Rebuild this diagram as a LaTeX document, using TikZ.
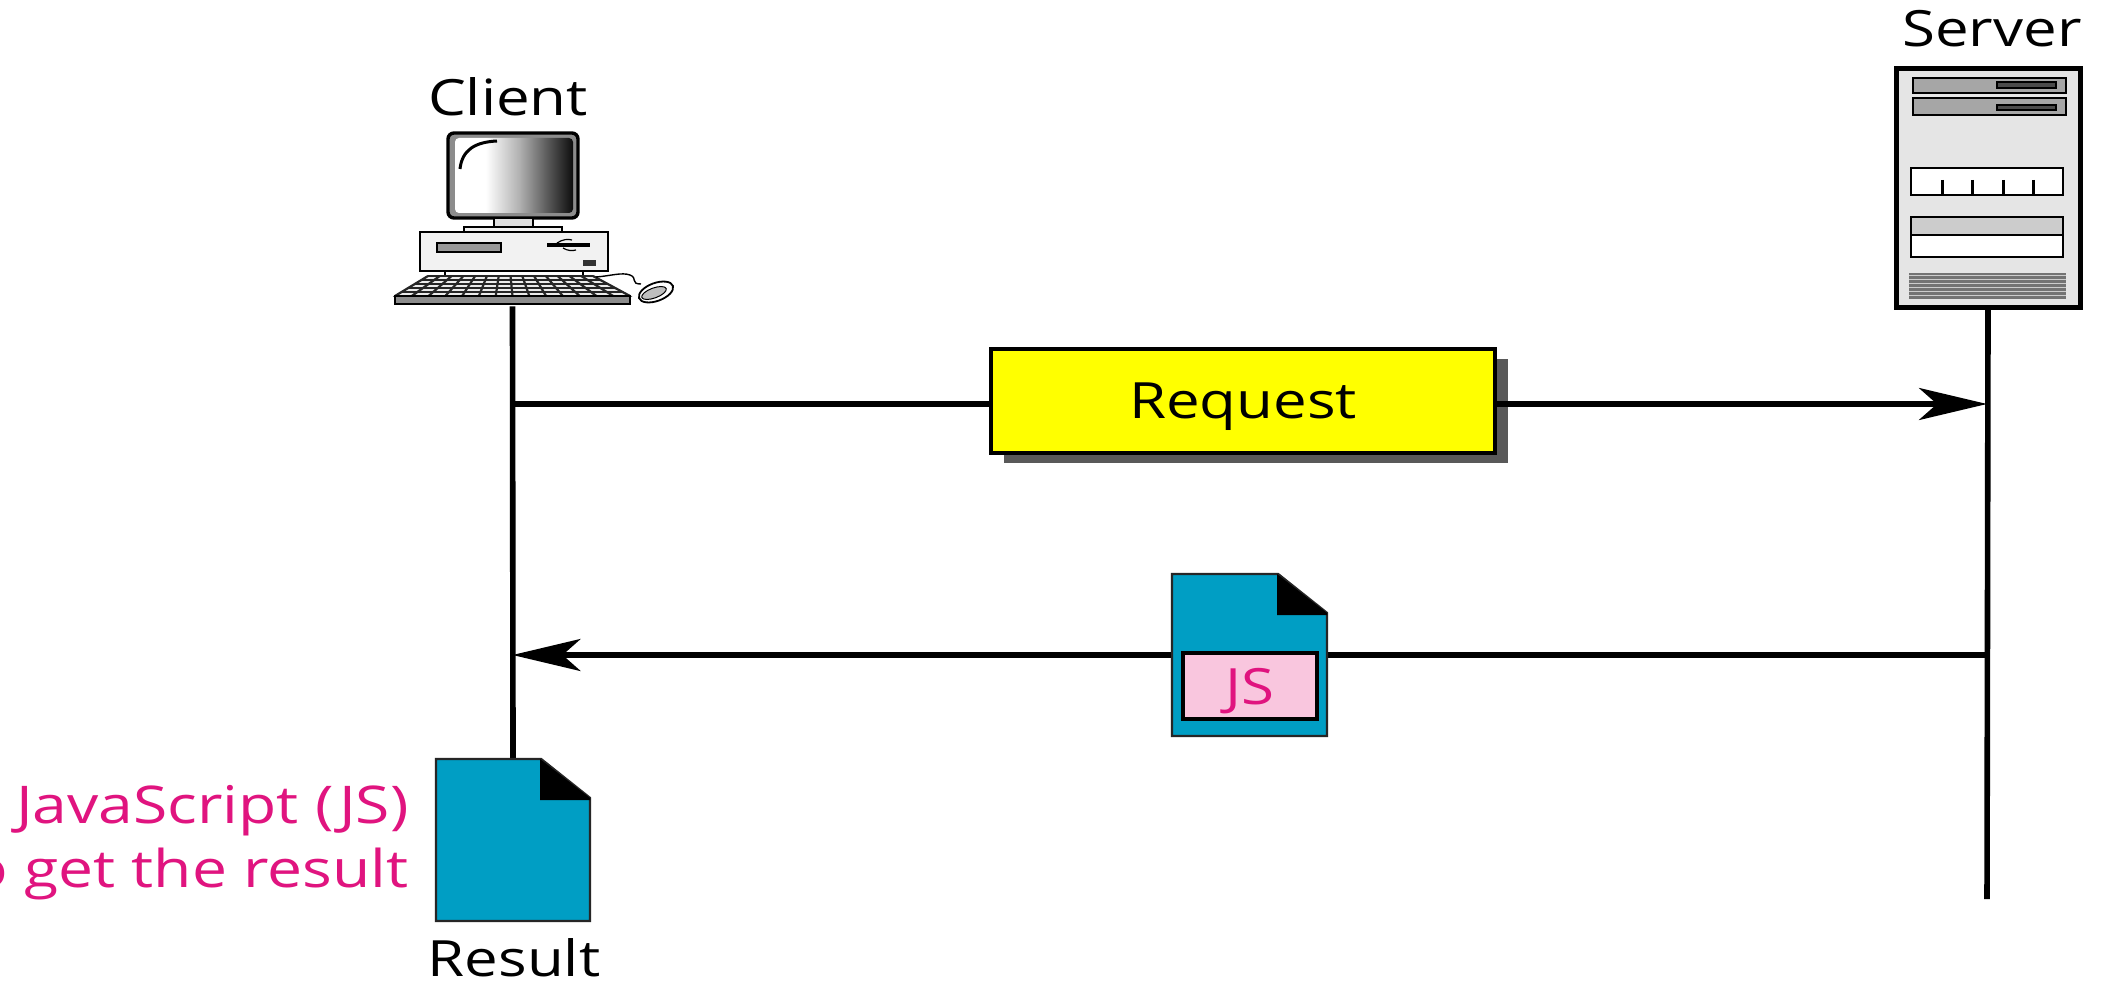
\documentclass[tikz,border=0pt]{standalone}
\usepackage{fontspec}
\setmainfont[FakeStretch=1.2]{Open Sans}
\usetikzlibrary{arrows.meta,shadows}
\definecolor{docblue}{HTML}{009EC4}
\definecolor{jspink}{HTML}{E0147F}
\definecolor{jsfill}{HTML}{F9C6DE}
\definecolor{reqyellow}{HTML}{FFFF00}
\pgfdeclarehorizontalshading{screenshade}{100bp}{color(0bp)=(white); color(38bp)=(white); color(52bp)=(black!30); color(66bp)=(black!70); color(75bp)=(black!95); color(100bp)=(black)}
\tikzset{
  x=0.5pt,y=-0.5pt,
  ink/.style={draw=black,line width=1.7pt},
  thin ink/.style={draw=black,line width=1.2pt},
  label text/.style={font=\fontsize{25}{30}\selectfont,text=black,inner sep=0pt,anchor=base},
  wire/.style={draw=black,line width=2.8pt},
  arrowwire/.style={wire,-{Stealth[length=34pt,width=16pt,inset=9pt]}},
  docframe/.style={draw=none,inner sep=0pt,minimum width=77pt,minimum height=81pt},
  docsheet/.style={fill=docblue,draw=black!85,line width=1.2pt,line join=miter},
}
\newcommand{\docshape}[4]{% x1,y1,x2,y2
  \filldraw[docsheet] (#1,#2) -- ({#3-49},#2) -- (#3,{#2+39}) -- (#3,#4) -- (#1,#4) -- cycle;
  \fill[black] ({#3-50},#2) -- (#3,{#2+39}) -- (#3,{#2+41}) -- ({#3-50},{#2+41}) -- cycle;
}
\begin{document}
\begin{tikzpicture}
\useasboundingbox (0,0) rectangle (2104,984);
\fill[white] (0,0) rectangle (2104,984);

% ---- anchors
\node[inner sep=0pt,minimum width=128pt,minimum height=88pt] (clientpc) at (512.5,218) {};
\node[inner sep=0pt,minimum width=92pt,minimum height=119.5pt,draw=black,line width=2.5pt,fill=black!10] (serverbox) at (1988,188) {};
\node[docframe] (resultdoc) at (513,840) {};
\node[docframe] (jsdoc) at (1250,655) {};
\coordinate (serverend) at (1987,899);
\coordinate (clientreq) at (512.5,404);
\coordinate (serverreq) at (1987,404);
\coordinate (serverresp) at (1987,655);
\coordinate (clientresp) at (512.5,655);

% ---- lifelines
\draw[wire] (clientpc.south) -- (resultdoc.north);
\draw[wire] (serverbox.south) -- (serverend);

% ---- request
\node[draw=black,line width=2pt,fill=reqyellow,minimum width=252pt,minimum height=52pt,inner sep=0pt,
      text height=18pt,text depth=0pt,
      drop shadow={shadow xshift=6.5pt,shadow yshift=-5pt,fill=black!65,opacity=1},
      font=\fontsize{25}{30}\selectfont] (req) at (1243,400.5) {Request};
\draw[wire] (clientreq) -- (clientreq-|req.west);
\draw[arrowwire] (serverreq-|req.east) -- (serverreq);

% ---- response
\draw[wire] (serverresp) -- (clientresp-|jsdoc.east);
\draw[arrowwire] (jsdoc.west) -- (clientresp);
\docshape{1172}{574}{1327}{736}
\node[draw=black,line width=2pt,fill=jsfill,minimum width=67pt,minimum height=33pt,inner sep=0pt,
      text height=18pt,text depth=0pt,
      text=jspink,font=\fontsize{25}{30}\selectfont] (jsbox) at (1250,686) {JS};

% ---- result document
\docshape{436}{759}{590}{921}
\node[label text] (resultlabel) at (514,976) {Result};
\node[anchor=base east,inner sep=0pt,text=jspink,font=\fontsize{26}{30}\selectfont] (jsnote) at (409,823) {JavaScript (JS)};
\node[anchor=base east,inner sep=0pt,text=jspink,font=\fontsize{26}{30}\selectfont] (jsnotetwo) at (409,887) {o get the result};

% ---- labels
\node[label text] (clientlabel) at (508,116) {Client};
\node[label text] (serverlabel) at (1992,47) {Server};

% ---- client computer
\draw[ink,fill=black!45,rounded corners=3pt] (448,133) rectangle (578,218);
\shade[shading=screenshade,rounded corners=2pt] (455,138) rectangle (573,213);
\draw[black,line width=1.5pt] (460,169) .. controls (462,150) and (475,142) .. (497,141);
\draw[thin ink,fill=black!12] (494,218) rectangle (533,227);
\draw[thin ink,fill=black!5] (464,227) rectangle (562,233);
\draw[thin ink,fill=black!5] (420,232) rectangle (608,271);
\draw[thin ink,fill=black!40] (437,243) rectangle (501,252);
\draw[black,line width=1.6pt] (547,245) -- (590,245);
\draw[black,line width=.6pt] (557,243) .. controls (563,239) and (568,239) .. (572,240);
\draw[black,line width=.6pt] (563,248) .. controls (568,251) and (572,251) .. (576,250);
\fill[black!80] (583,260) rectangle (596,266);
\draw[thin ink] (445,271) -- (445,276) (583,271) -- (583,276);
\draw[black,line width=.6pt,fill=black!8] (428,276) -- (593,276) -- (630,296) -- (395,296) -- cycle;
\foreach \r in {0,...,5}{
  \pgfmathsetmacro\yy{276+4*\r}
  \pgfmathsetmacro\xa{428-33*\r/5}
  \pgfmathsetmacro\xb{593+37*\r/5}
  \draw[black!85,line width=1.1pt] (\xa,\yy) -- (\xb,\yy);
}
\foreach \c in {0,...,14}{
  \pgfmathsetmacro\xt{428+165*\c/14}
  \pgfmathsetmacro\xd{395+235*\c/14}
  \draw[black!85,line width=1.1pt] (\xt,276) -- (\xd,296);
}
\draw[thin ink,fill=black!45] (395,296) rectangle (630,304);
\draw[black,line width=.7pt] (596,277) .. controls (610,276) and (622,272) .. (630,275) .. controls (638,278) and (630,284) .. (641,284);
\draw[black,line width=.9pt,fill=white,rotate around={20:(656,292)}] (656,292) ellipse (18 and 9);
\draw[black,line width=.5pt,fill=black!25,rotate around={20:(654,293)}] (654,293) ellipse (13 and 5);

% ---- server details
\foreach \ya/\yb/\yc/\yd in {78/93/82/88,98/115/105/110}{
  \draw[thin ink,fill=black!35] (1913,\ya) rectangle (2066,\yb);
  \draw[black,line width=.8pt,fill=black!70] (1997,\yc) rectangle (2056,\yd);
}
\draw[thin ink,fill=white] (1911,168) rectangle (2063,195);
\foreach \t in {1942,1972,2003,2033}{\draw[black,line width=1.5pt] (\t,180) -- (\t,195);}
\draw[thin ink,fill=black!20] (1911,217) rectangle (2063,235);
\draw[thin ink,fill=white] (1911,235) rectangle (2063,257);
\fill[black!55] (1909,273) rectangle (2066,299);
\foreach \k in {0,...,5}{\draw[black!20,line width=.5pt] (1909,{276+4*\k}) -- (2066,{276+4*\k});}
\end{tikzpicture}
\end{document}
